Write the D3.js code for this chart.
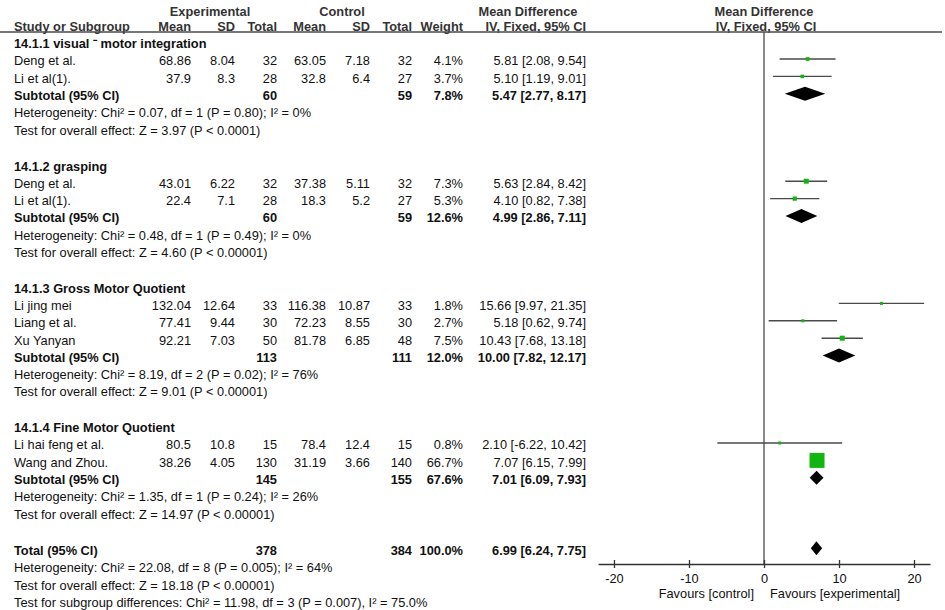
<!DOCTYPE html>
<html>
<head>
<meta charset="utf-8">
<script src="https://cdn.jsdelivr.net/npm/d3@7"></script>
<style>
  body { margin: 0; background: #fff; }
  svg { font-family: "Liberation Sans", Arial, sans-serif; font-size: 12.8px; }
</style>
</head>
<body>
<svg id="forest" width="945" height="610"></svg>
<script>
// ---- data ----
const subgroups = ["14.1.1 visual \u207B motor integration", "14.1.2 grasping", "14.1.3 Gross Motor Quotient", "14.1.4 Fine Motor Quotient"];

const studies   = ["Deng et al.", "Li et al(1).", "Deng et al.", "Li et al(1).", "Li jing mei", "Liang et al.", "Xu Yanyan", "Li hai feng et al.", "Wang and Zhou."];
const studyGroup = [0, 0, 1, 1, 2, 2, 2, 3, 3];
const expMean = [68.86, 37.9, 43.01, 22.4, 132.04, 77.41, 92.21, 80.5, 38.26];
const expSD   = [8.04, 8.3, 6.22, 7.1, 12.64, 9.44, 7.03, 10.8, 4.05];
const expN    = [32, 28, 32, 28, 33, 30, 50, 15, 130];
const ctlMean = [63.05, 32.8, 37.38, 18.3, 116.38, 72.23, 81.78, 78.4, 31.19];
const ctlSD   = [7.18, 6.4, 5.11, 5.2, 10.87, 8.55, 6.85, 12.4, 3.66];
const ctlN    = [32, 27, 32, 27, 33, 30, 48, 15, 140];
const weight  = [4.1, 3.7, 7.3, 5.3, 1.8, 2.7, 7.5, 0.8, 66.7];
const md      = [5.81, 5.10, 5.63, 4.10, 15.66, 5.18, 10.43, 2.10, 7.07];
const ciLow   = [2.08, 1.19, 2.84, 0.82, 9.97, 0.62, 7.68, -6.22, 6.15];
const ciHigh  = [9.54, 9.01, 8.42, 7.38, 21.35, 9.74, 13.18, 10.42, 7.99];

const subExpN   = [60, 60, 113, 145];
const subCtlN   = [59, 59, 111, 155];
const subWeight = [7.8, 12.6, 12.0, 67.6];
const subMD     = [5.47, 4.99, 10.00, 7.01];
const subLow    = [2.77, 2.86, 7.82, 6.09];
const subHigh   = [8.17, 7.11, 12.17, 7.93];
const subHet = [
  "Heterogeneity: Chi\u00B2 = 0.07, df = 1 (P = 0.80); I\u00B2 = 0%",
  "Heterogeneity: Chi\u00B2 = 0.48, df = 1 (P = 0.49); I\u00B2 = 0%",
  "Heterogeneity: Chi\u00B2 = 8.19, df = 2 (P = 0.02); I\u00B2 = 76%",
  "Heterogeneity: Chi\u00B2 = 1.35, df = 1 (P = 0.24); I\u00B2 = 26%"
];
const subTest = [
  "Test for overall effect: Z = 3.97 (P < 0.0001)",
  "Test for overall effect: Z = 4.60 (P < 0.00001)",
  "Test for overall effect: Z = 9.01 (P < 0.00001)",
  "Test for overall effect: Z = 14.97 (P < 0.00001)"
];

const totalExpN = 378, totalCtlN = 384, totalWeight = 100.0;
const totalMD = 6.99, totalLow = 6.24, totalHigh = 7.75;
const totalNotes = [
  "Heterogeneity: Chi\u00B2 = 22.08, df = 8 (P = 0.005); I\u00B2 = 64%",
  "Test for overall effect: Z = 18.18 (P < 0.00001)",
  "Test for subgroup differences: Chi\u00B2 = 11.98, df = 3 (P = 0.007), I\u00B2 = 75.0%"
];

const xTicks = [-20, -10, 0, 10, 20];
const favLeft = "Favours [control]", favRight = "Favours [experimental]";

// ---- layout ----
const svg = d3.select("#forest");
const txt = "#111", grey = "#4a4a4a", green = "#10b510";
const f2 = v => d3.format(".2f")(v).replace("\u2212", "-");
const f1 = d3.format(".1f");
const ci = (m, l, h) => f2(m) + " [" + f2(l) + ", " + f2(h) + "]";

const col = { name: 14, eMean: 191, eSD: 235, eN: 277, cMean: 326, cSD: 370, cN: 412, w: 463, ci: 586 };
const base = 6.3; // text baseline below the mark centre line

// build rows with a y cursor
const rows = [];
let y = 42;
subgroups.forEach((g, gi) => {
  if (gi > 0) y += 36;
  rows.push({ type: "head", y: y, label: g });
  y += 17;
  let first = true;
  studies.forEach((s, i) => {
    if (studyGroup[i] !== gi) return;
    if (!first) y += 17.4;
    first = false;
    rows.push({ type: "study", y: y, i: i });
  });
  y += 17.4;
  rows.push({ type: "sub", y: y, g: gi });
  y += 17.2;
  rows.push({ type: "note", y: y, label: subHet[gi] });
  y += 17.2;
  rows.push({ type: "note", y: y, label: subTest[gi] });
});
y += 36;
rows.push({ type: "total", y: y });
totalNotes.forEach(n => { y += 17.5; rows.push({ type: "note", y: y, label: n }); });

const axisY = 564;
const x = d3.scaleLinear().domain([-22.13, 22.13]).range([598, 930]);
const side = d3.scaleSqrt().domain([0, 66.7]).range([0, 15]);

function put(tx, ty, s, anchor, bold) {
  svg.append("text").attr("x", tx).attr("y", ty)
    .attr("text-anchor", anchor || "start")
    .attr("font-weight", bold ? "bold" : "normal")
    .attr("fill", txt).text(s);
}

// ---- header ----
const hd = "#333";
[["Experimental", 210, 15.5, "middle"], ["Control", 342, 15.5, "middle"], ["Mean Difference", 528, 15.5, "middle"],
 ["Mean Difference", 764, 15.5, "middle"],
 ["Study or Subgroup", col.name, 30.5, "start"], ["Mean", col.eMean, 30.5, "end"], ["SD", col.eSD, 30.5, "end"],
 ["Total", col.eN, 30.5, "end"], ["Mean", col.cMean, 30.5, "end"], ["SD", col.cSD, 30.5, "end"],
 ["Total", col.cN, 30.5, "end"], ["Weight", col.w, 30.5, "end"], ["IV, Fixed, 95% CI", col.ci, 30.5, "end"],
 ["IV, Fixed, 95% CI", 766, 30.5, "middle"]
].forEach(h => {
  svg.append("text").attr("x", h[1]).attr("y", h[2])
    .attr("text-anchor", h[3]).attr("font-weight", "bold").attr("fill", hd).text(h[0]);
});
svg.append("line").attr("x1", 0).attr("x2", 942).attr("y1", 32).attr("y2", 32)
  .attr("stroke", grey).attr("stroke-width", 1.5);

// zero line
svg.append("line").attr("x1", x(0)).attr("x2", x(0)).attr("y1", 32).attr("y2", axisY)
  .attr("stroke", grey).attr("stroke-width", 1.3);

// ---- rows ----
rows.forEach(r => {
  const ty = r.y + base;
  if (r.type === "head") {
    put(col.name, ty, r.label, "start", true);
  } else if (r.type === "note") {
    put(col.name, ty, r.label, "start", false);
  } else if (r.type === "study") {
    const i = r.i;
    put(col.name, ty, studies[i]);
    put(col.eMean, ty, String(expMean[i]), "end");
    put(col.eSD, ty, String(expSD[i]), "end");
    put(col.eN, ty, String(expN[i]), "end");
    put(col.cMean, ty, String(ctlMean[i]), "end");
    put(col.cSD, ty, String(ctlSD[i]), "end");
    put(col.cN, ty, String(ctlN[i]), "end");
    put(col.w, ty, f1(weight[i]) + "%", "end");
    put(col.ci, ty, ci(md[i], ciLow[i], ciHigh[i]), "end");
    svg.append("line").attr("x1", x(ciLow[i])).attr("x2", x(ciHigh[i]))
      .attr("y1", r.y).attr("y2", r.y).attr("stroke", grey).attr("stroke-width", 1.4);
    const s = Math.max(3, side(weight[i]));
    svg.append("rect").attr("x", x(md[i]) - s / 2).attr("y", r.y - s / 2)
      .attr("width", s).attr("height", s).attr("fill", green);
  } else if (r.type === "sub" || r.type === "total") {
    const g = r.g;
    const isT = r.type === "total";
    put(col.name, ty, isT ? "Total (95% CI)" : "Subtotal (95% CI)", "start", true);
    put(col.eN, ty, String(isT ? totalExpN : subExpN[g]), "end", true);
    put(col.cN, ty, String(isT ? totalCtlN : subCtlN[g]), "end", true);
    put(col.w, ty, f1(isT ? totalWeight : subWeight[g]) + "%", "end", true);
    const m = isT ? totalMD : subMD[g], lo = isT ? totalLow : subLow[g], hi = isT ? totalHigh : subHigh[g];
    put(col.ci, ty, ci(m, lo, hi), "end", true);
    const pts = [[x(lo), r.y], [x(m), r.y - 7], [x(hi), r.y], [x(m), r.y + 7]];
    svg.append("path").attr("d", d3.line()(pts) + "Z").attr("fill", "#000");
  }
});

// ---- axis ----
const ax = svg.append("g").attr("transform", "translate(0," + axisY + ")")
  .call(d3.axisBottom(x).tickValues(xTicks).tickSize(4).tickSizeOuter(0).tickFormat(d => String(d)));
ax.select(".domain").attr("stroke", "#333").attr("stroke-width", 1.3);
ax.selectAll(".tick line").attr("y1", -4).attr("stroke", "#333").attr("stroke-width", 1.3);
ax.selectAll(".tick text").attr("y", 19).attr("dy", 0)
  .attr("font-family", "Liberation Sans, Arial, sans-serif").attr("font-size", "12.8px").attr("fill", txt);

svg.append("text").attr("x", x(0) - 10).attr("y", 598).attr("text-anchor", "end")
  .attr("fill", txt).text(favLeft);
svg.append("text").attr("x", x(0) + 6).attr("y", 598).attr("text-anchor", "start")
  .attr("fill", txt).text(favRight);
</script>
</body>
</html>
